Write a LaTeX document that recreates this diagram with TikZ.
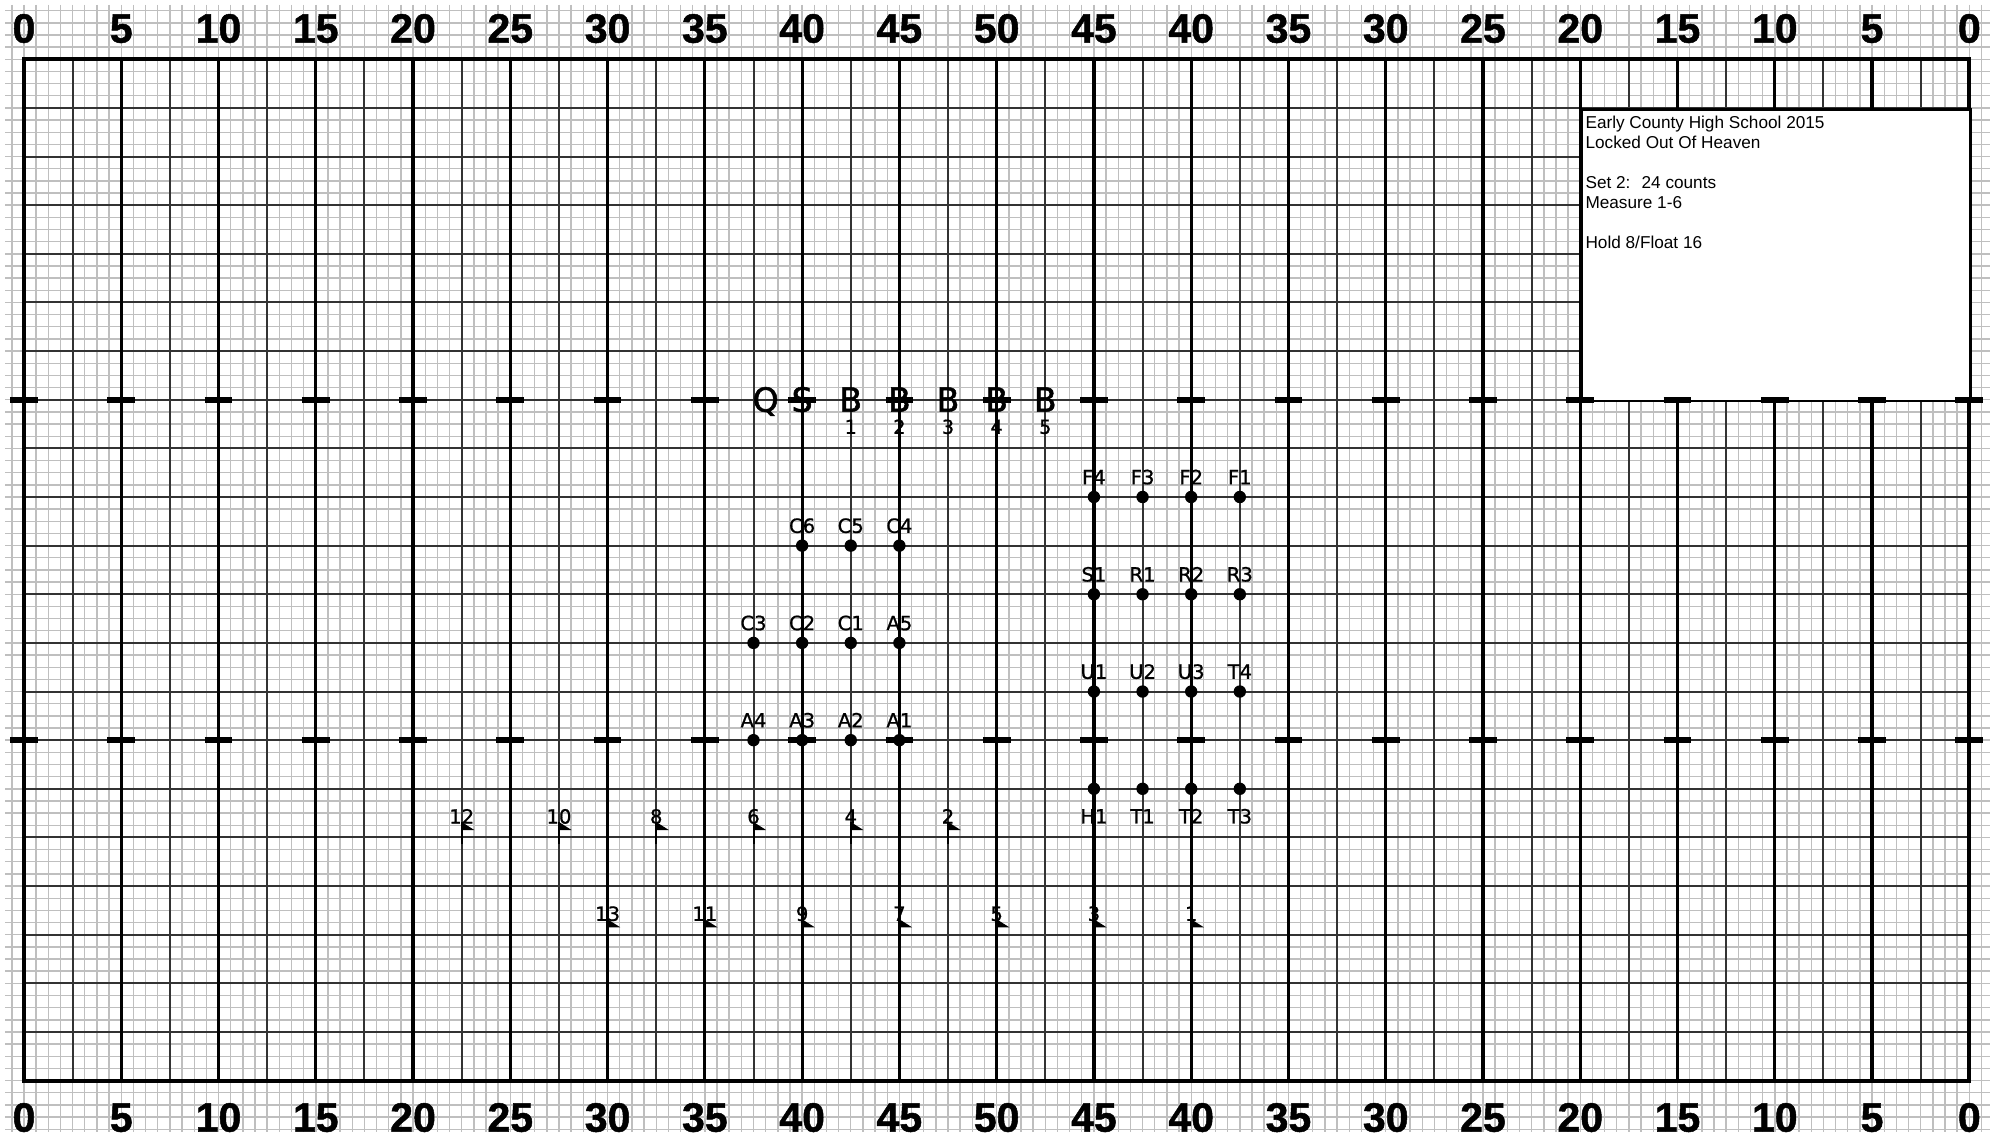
\documentclass[tikz,border=0pt]{standalone}
\usepackage{fontspec}
\newfontfamily\arialf{Liberation Sans}
\newfontfamily\arialbf[FakeBold=1.2]{Liberation Sans Bold}
\newfontfamily\djv[FakeBold=0.9]{DejaVu Sans}
\newfontfamily\djvb[FakeBold=1.6]{DejaVu Sans}
\begin{document}
\begin{tikzpicture}[x=6.079pt,y=-6.079pt,
  faint/.style={draw=black!25,line width=0.7pt},
  medium/.style={draw=black!80,line width=1pt},
  heavy/.style={draw=black,line width=1.6pt},
  hashmark/.style={draw=black,line width=3pt},
  dot/.style={circle,fill=black,inner sep=0pt,minimum size=6.2pt},
  lab/.style={font=\djv\fontsize{9.8pt}{9.8pt}\selectfont,inner sep=0pt,anchor=base},
  numl/.style={font=\djv\fontsize{9.6pt}{9.6pt}\selectfont,inner sep=0pt,anchor=base},
  bigl/.style={font=\djvb\fontsize{16.6pt}{16.6pt}\selectfont,inner sep=0pt,anchor=base},
  yardnum/.style={font=\arialbf\fontsize{20.5pt}{20.5pt}\selectfont,inner sep=0pt,anchor=base},
  boxtxt/.style={font=\arialf\fontsize{8.6pt}{10pt}\selectfont,inner sep=0pt,anchor=base west},
  flagpole/.style={draw=black,line width=1pt}
]
\useasboundingbox (-1.974,-4.877) rectangle (163.1,89.22);
\fill[white] (-1.974,-4.877) rectangle (163.1,89.22);
% faint step grid
\foreach \i in {-1,...,161} \draw[faint] (\i,-4.47) -- (\i,88.2);
\foreach \j in {-4,...,88} \draw[faint] (-1.56,\j) -- (161.7,\j);
% medium lines
\foreach \i in {4,12,...,156} \draw[medium] (\i,0) -- (\i,84);
\foreach \j in {4,8,...,80} \draw[medium] (0,\j) -- (160,\j);
% yard lines
\foreach \i in {8,16,...,152} \draw[heavy] (\i,0) -- (\i,84);
\draw[line width=2pt] (0,0) rectangle (160,84);
% info box
\node[draw=black,fill=white,line width=1.3pt,inner sep=0pt,anchor=north west,
      minimum width=194.5pt,minimum height=145.9pt] (info) at (128,4) {};
\node[boxtxt] (l1) at (128.4,5.675) {Early County High School 2015};
\node[boxtxt] (l2) at (128.4,7.32) {Locked Out Of Heaven};
\node[boxtxt] (l3) at (128.4,10.61) {Set 2:~ 24 counts};
\node[boxtxt] (l4) at (128.4,12.255) {Measure 1-6};
\node[boxtxt] (l5) at (128.4,15.545) {Hold 8/Float 16};
% hash marks
\foreach \i in {0,8,...,160} {
  \draw[hashmark] (\i-1.14,28) -- (\i+1.14,28);
  \draw[hashmark] (\i-1.14,56) -- (\i+1.14,56);
}
% yard numbers
\foreach \k/\n in {0/0,1/5,2/10,3/15,4/20,5/25,6/30,7/35,8/40,9/45,10/50,
                   11/45,12/40,13/35,14/30,15/25,16/20,17/15,18/10,19/5,20/0} {
  \node[yardnum] (t\k) at (8*\k,-1.37) {\n};
  \node[yardnum] (b\k) at (8*\k,88.2) {\n};
}
% big letters
\node[bigl] (Q) at (61,28.98) {Q};
\node[bigl] (S) at (64,28.98) {S};
\foreach \k/\x in {1/68,2/72,3/76,4/80,5/84} {
  \node[bigl] (B\k) at (\x,28.98) {B};
  \node[numl] (N\k) at (\x,30.8) {\k};
}
% dots with labels above
\foreach \nm/\x/\y in {F4/88/36,F3/92/36,F2/96/36,F1/100/36,
                       C6/64/40,C5/68/40,C4/72/40,
                       S1/88/44,R1/92/44,R2/96/44,R3/100/44,
                       C3/60/48,C2/64/48,C1/68/48,A5/72/48,
                       U1/88/52,U2/92/52,U3/96/52,T4/100/52,
                       A4/60/56,A3/64/56,A2/68/56,A1/72/56} {
  \node[dot] (\nm) at (\x,\y) {};
  \node[lab] (\nm-l) at (\x,\y-1.05) {\nm};
}
% dots with labels below
\foreach \nm/\x/\y in {H1/88/60,T1/92/60,T2/96/60,T3/100/60} {
  \node[dot] (\nm) at (\x,\y) {};
  \node[lab] (\nm-l) at (\x,\y+2.85) {\nm};
}
% flags
\foreach \n/\x/\y in {12/36/64,10/44/64,8/52/64,6/60/64,4/68/64,2/76/64,
                      13/48/72,11/56/72,9/64/72,7/72/72,5/80/72,3/88/72,1/96/72} {
  \draw[flagpole] (\x,\y+0.55) -- (\x,\y-1.27);
  \fill[black] (\x,\y-1.27) -- (\x,\y-0.61) -- (\x+1.04,\y-0.61) -- cycle;
  \node[lab] (f\n) at (\x,\y-1.14) {\n};
}
\end{tikzpicture}
\end{document}
